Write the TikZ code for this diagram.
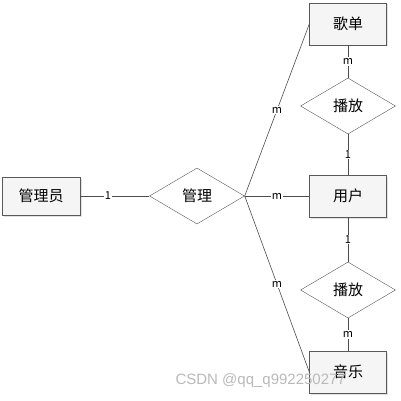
\documentclass[tikz,border=0pt]{standalone}
\usepackage{fontspec}
\setmainfont{Noto Sans CJK SC}
\newfontfamily\markfont{Liberation Sans}
\usepackage{tikz}
\usetikzlibrary{shapes.geometric}
\usetikzlibrary{shadows}

\begin{document}
\begin{tikzpicture}[x=1pt, y=1pt]
    \tikzstyle{entity} = [rectangle, minimum width=77pt, minimum height=42pt, text centered, draw=gray!70!black, fill=gray!8, drop shadow={shadow xshift=1.5pt, shadow yshift=-1.5pt, fill=gray!45}, font=\fontsize{15}{17}\selectfont]
    \tikzstyle{relation} = [diamond, aspect=1.7, minimum width=95pt, minimum height=56pt, inner sep=0pt, text centered, draw=gray!70!black, fill=white, font=\fontsize{15}{17}\selectfont]
    \tikzstyle{link} = [draw=gray!60!black, line width=0.6pt]
    \tikzstyle{card} = [fill=white, inner sep=1pt, font=\fontsize{11}{12}\selectfont]

    \useasboundingbox (0,0) rectangle (401,-401);

    % Entities and relations
    \node [entity, minimum width=78pt, minimum height=38pt] (admin) at (41,-196) {管理员};
    \node [relation, right of=admin, node distance=156pt] (manage) {管理};
    \node [entity, right of=manage, node distance=151pt] (user) {用户};
    \node [relation, above of=user, node distance=90pt] (play_list) {播放};
    \node [entity, above of=play_list, node distance=82pt] (songlist) {歌单};
    \node [relation, below of=user, node distance=94pt] (play_music) {播放};
    \node [entity, below of=play_music, node distance=82pt] (music) {音乐};

    % Connections
    \draw [link] (admin) -- node [card, pos=0.4] {1} (manage);
    \draw [link] (manage.east) -- node [card] {m} (songlist.west);
    \draw [link] (manage.east) -- node [card] {m} (user.west);
    \draw [link] (manage.east) -- node [card] {m} (music.west);

    \draw [link] (songlist) -- node [card] {m} (play_list);
    \draw [link] (play_list) -- node [card] {1} (user);
    \draw [link] (user) -- node [card] {1} (play_music);
    \draw [link] (play_music) -- node [card] {m} (music);

    % Watermark
    \node [anchor=west, text=gray!55, font=\markfont\fontsize{15}{16}\selectfont] (mark) at (172,-381) {CSDN @qq\_q992250277};
\end{tikzpicture}
\end{document}
